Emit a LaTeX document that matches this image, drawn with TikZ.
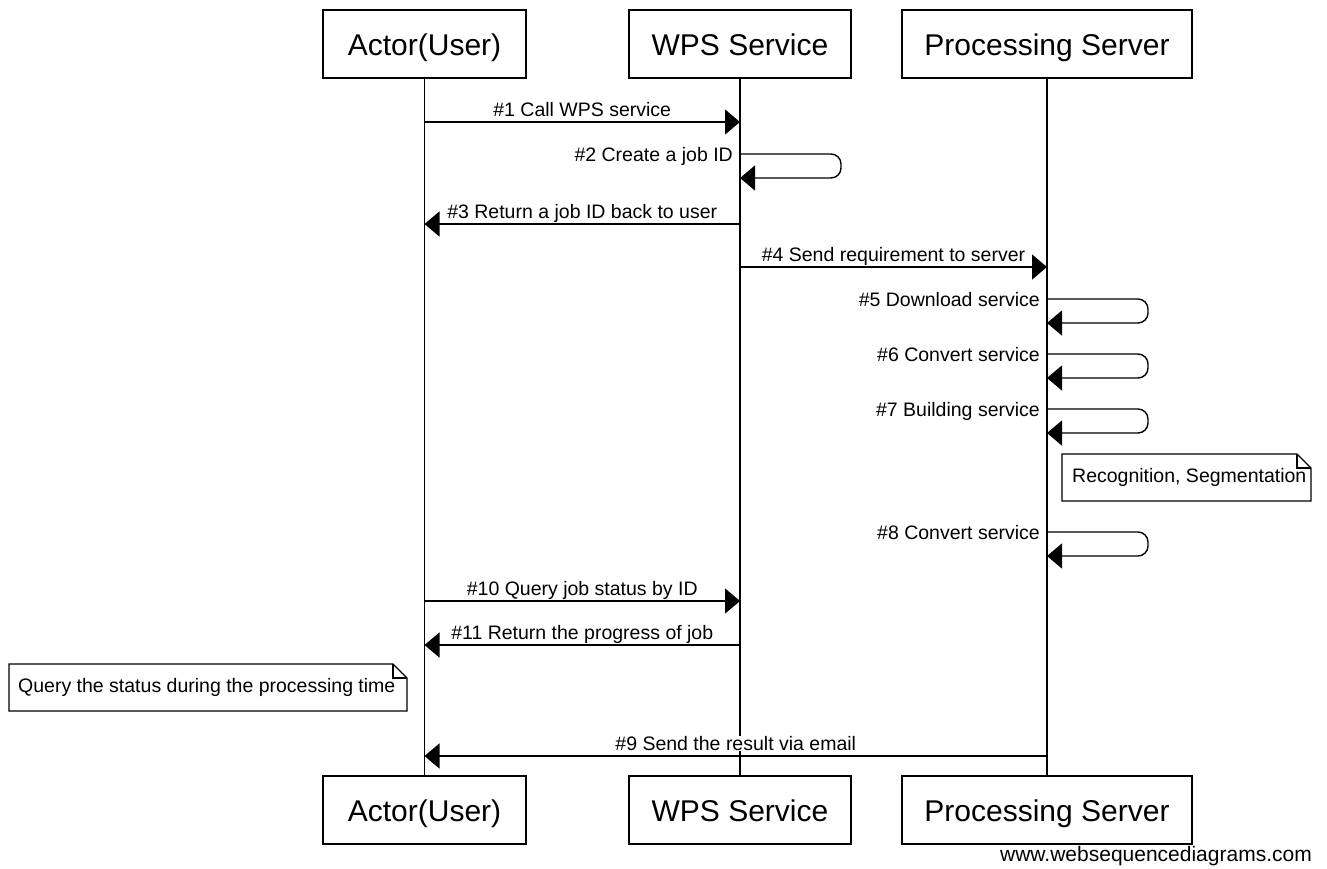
\documentclass[tikz,border=0pt]{standalone}
\usepackage{fontspec}
\setmainfont{Liberation Sans}
\usetikzlibrary{arrows.meta}

\begin{document}
\begin{tikzpicture}[x=1pt, y=-1pt,
  actorbox/.style={draw, line width=1.4pt, minimum height=68pt, inner sep=0pt,
                   text height=25pt, text depth=3pt, fill=white,
                   font=\fontsize{30}{36}\selectfont},
  lifeline/.style={line width=1.4pt},
  msg/.style={line width=1.4pt, -{Triangle[length=15pt,width=25pt]}},
  selfmsg/.style={msg, rounded corners=10pt},
  msglabel/.style={font=\fontsize{19.5}{23}\selectfont, inner sep=0pt, fill=white},
  notetext/.style={font=\fontsize{19.5}{23}\selectfont, inner sep=0pt, anchor=west},
  noteline/.style={line width=1.3pt, fill=white},
]
\useasboundingbox (0,0) rectangle (1327,868);

% participants, top and bottom
\node[actorbox, minimum width=203pt] (a1) at (424.5,44) {Actor(User)};
\node[actorbox, minimum width=222pt] (w1) at (740,44)   {WPS Service};
\node[actorbox, minimum width=290pt] (p1) at (1047,44)  {Processing Server};
\node[actorbox, minimum width=203pt] (a2) at (424.5,810) {Actor(User)};
\node[actorbox, minimum width=222pt] (w2) at (740,810)   {WPS Service};
\node[actorbox, minimum width=290pt] (p2) at (1047,810)  {Processing Server};

% lifelines
\draw[lifeline] (a1.south) -- (a2.north);
\draw[lifeline] (w1.south) -- (w2.north);
\draw[lifeline] (p1.south) -- (p2.north);

% message end points on the lifelines
\coordinate (m1a) at (a1 |- 0,122);  \coordinate (m1w) at (w1 |- 0,122);
\coordinate (m2s) at (w1 |- 0,154);  \coordinate (m2e) at (w1 |- 0,178);
\coordinate (m3w) at (w1 |- 0,224);  \coordinate (m3a) at (a1 |- 0,224);
\coordinate (m4w) at (w1 |- 0,267);  \coordinate (m4p) at (p1 |- 0,267);
\coordinate (m5s) at (p1 |- 0,299);  \coordinate (m5e) at (p1 |- 0,323);
\coordinate (m6s) at (p1 |- 0,354);  \coordinate (m6e) at (p1 |- 0,378);
\coordinate (m7s) at (p1 |- 0,409);  \coordinate (m7e) at (p1 |- 0,433);
\coordinate (m8s) at (p1 |- 0,532);  \coordinate (m8e) at (p1 |- 0,556);
\coordinate (m10a) at (a1 |- 0,601); \coordinate (m10w) at (w1 |- 0,601);
\coordinate (m11w) at (w1 |- 0,645); \coordinate (m11a) at (a1 |- 0,645);
\coordinate (m9p) at (p1 |- 0,756);  \coordinate (m9a) at (a1 |- 0,756);

% messages between lifelines
\draw[msg] (m1a) -- node[msglabel, midway, anchor=base, yshift=5.5pt] {\#1 Call WPS service} (m1w);
\draw[msg] (m3w) -- node[msglabel, midway, anchor=base, yshift=5.5pt] {\#3 Return a job ID back to user} (m3a);
\draw[msg] (m4w) -- node[msglabel, midway, anchor=base, yshift=5.5pt] {\#4 Send requirement to server} (m4p);
\draw[msg] (m10a) -- node[msglabel, midway, anchor=base, yshift=5.5pt] {\#10 Query job status by ID} (m10w);
\draw[msg] (m11w) -- node[msglabel, midway, anchor=base, yshift=5.5pt] {\#11 Return the progress of job} (m11a);
\draw[msg] (m9p) -- node[msglabel, midway, anchor=base, yshift=5.5pt] {\#9 Send the result via email} (m9a);

% self messages
\draw[selfmsg] (m2s) -- ++(101,0) -- ++(0,24) -- (m2e);
\node[msglabel, anchor=base east] at ([xshift=-7pt, yshift=-7pt]m2s) {\#2 Create a job ID};
\draw[selfmsg] (m5s) -- ++(101,0) -- ++(0,24) -- (m5e);
\node[msglabel, anchor=base east] at ([xshift=-7pt, yshift=-7pt]m5s) {\#5 Download service};
\draw[selfmsg] (m6s) -- ++(101,0) -- ++(0,24) -- (m6e);
\node[msglabel, anchor=base east] at ([xshift=-7pt, yshift=-7pt]m6s) {\#6 Convert service};
\draw[selfmsg] (m7s) -- ++(101,0) -- ++(0,24) -- (m7e);
\node[msglabel, anchor=base east] at ([xshift=-7pt, yshift=-7pt]m7s) {\#7 Building service};
\draw[selfmsg] (m8s) -- ++(101,0) -- ++(0,24) -- (m8e);
\node[msglabel, anchor=base east] at ([xshift=-7pt, yshift=-7pt]m8s) {\#8 Convert service};

% notes with a folded corner
\draw[noteline] (1062,454) -- (1297,454) -- (1311,468) -- (1311,501) -- (1062,501) -- cycle;
\draw[line width=1.1pt] (1297,454) -- (1297,468) -- (1311,468);
\node[notetext] (n1) at (1072,477.5) {Recognition, Segmentation};

\draw[noteline] (9,664) -- (393,664) -- (407,678) -- (407,711) -- (9,711) -- cycle;
\draw[line width=1.1pt] (393,664) -- (393,678) -- (407,678);
\node[notetext] (n2) at (18,687.5) {Query the status during the processing time};

% credit line
\node[font=\fontsize{21}{25}\selectfont, inner sep=0pt, anchor=base east] (credit) at (1312,861) {www.websequencediagrams.com};
\end{tikzpicture}
\end{document}
